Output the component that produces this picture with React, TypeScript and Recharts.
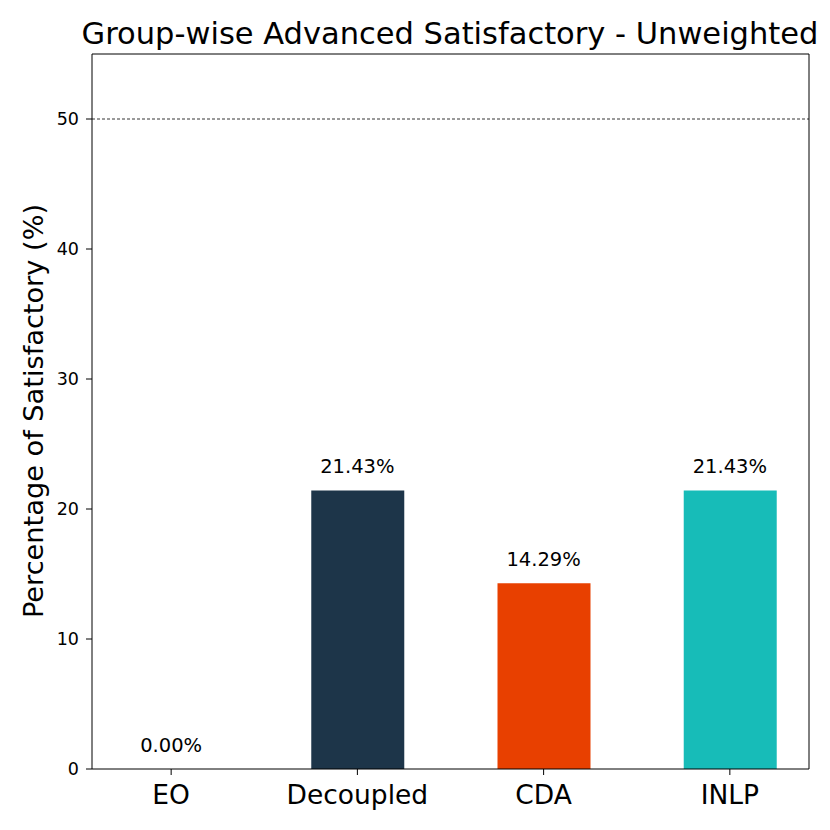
import React from "react";
import { ComposedChart, Bar, Scatter, XAxis, YAxis, ReferenceLine, Cell } from "recharts";

const categories = ["EO", "Decoupled", "CDA", "INLP"];
const values = [0.0, 21.43, 14.29, 21.43];
const colors = ["#1f77b4", "#1d3549", "#e84000", "#17bcb8"];
const yTicks = [0, 10, 20, 30, 40, 50];
const xPositions = [0, 1, 2, 3];

const data = categories.map((c, i) => ({ name: c, x: xPositions[i], value: values[i] }));

const FONT = "DejaVu Sans, sans-serif";
const X_MIN = -0.425;
const X_MAX = 3.425;
const Y_MAX = 55;

const LabelShape = (props: any) => {
  const { cx, cy, payload } = props;
  return (
    <text x={cx} y={cy - 17} textAnchor="middle" fontSize={19.5} fontFamily={FONT} fill="#000">
      {Number(payload.value).toFixed(2) + "%"}
    </text>
  );
};

export default function App() {
  return (
    <div style={{ position: "absolute", left: 0, top: 0, width: 830, height: 830, background: "#fff" }}>
      <ComposedChart
        width={830}
        height={830}
        data={data}
        margin={{ top: 54, right: 21, left: 32, bottom: 31 }}
      >
        <text x={450} y={44} textAnchor="middle" fontSize={30.5} fontFamily={FONT} fill="#000">
          Group-wise Advanced Satisfactory - Unweighted
        </text>
        <text
          x={43}
          y={411}
          textAnchor="middle"
          fontSize={27.2}
          fontFamily={FONT}
          fill="#000"
          transform="rotate(-90 43 411)"
        >
          Percentage of Satisfactory (%)
        </text>
        <XAxis
          dataKey="x"
          type="number"
          domain={[X_MIN, X_MAX]}
          ticks={xPositions}
          tickFormatter={(v: number) => categories[v] ?? ""}
          allowDataOverflow
          height={30}
          tick={{ fontSize: 26.5, fontFamily: FONT, fill: "#000", dy: 8 }}
          tickSize={6}
          tickLine={{ stroke: "#000" }}
          axisLine={{ stroke: "#000" }}
          interval={0}
        />
        <YAxis
          type="number"
          domain={[0, Y_MAX]}
          ticks={yTicks}
          allowDataOverflow
          width={60}
          tick={{ fontSize: 17.5, fontFamily: FONT, fill: "#000", dx: -5 }}
          tickSize={6}
          tickLine={{ stroke: "#000" }}
          axisLine={{ stroke: "#000" }}
          interval={0}
        />
        <ReferenceLine y={50} stroke="#000" strokeDasharray="3 2" strokeWidth={0.8} />
        <ReferenceLine y={Y_MAX} stroke="#000" strokeWidth={1} ifOverflow="visible" />
        <ReferenceLine x={X_MAX} stroke="#000" strokeWidth={1} ifOverflow="visible" />
        <Bar dataKey="value" barSize={93} isAnimationActive={false}>
          {data.map((d, i) => (
            <Cell key={d.name} fill={colors[i]} />
          ))}
        </Bar>
        <Scatter dataKey="value" shape={<LabelShape />} isAnimationActive={false} />
      </ComposedChart>
    </div>
  );
}
